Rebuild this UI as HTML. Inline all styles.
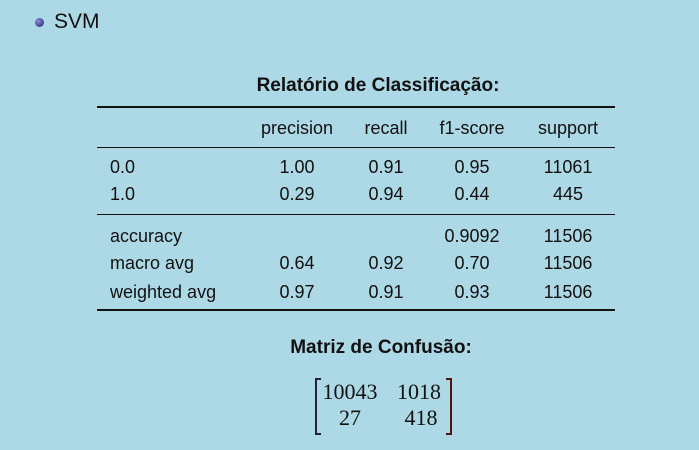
<!DOCTYPE html>
<html><head><meta charset="utf-8"><style>
body{margin:0;width:699px;height:450px;background:#add8e6;position:relative;overflow:hidden;font-family:"Liberation Sans",sans-serif;color:#111;}
.t{position:absolute;white-space:nowrap;font-size:18px;line-height:20px;transform:translate(-50%,-50%);}
.l{position:absolute;white-space:nowrap;font-size:18px;line-height:20px;transform:translateY(-50%);}
.r{position:absolute;left:97px;width:518px;background:#111;}
.m{position:absolute;font-family:"Liberation Serif",serif;font-size:22px;line-height:24px;transform:translate(-50%,-50%);white-space:nowrap;}
</style></head><body>
<div style="position:absolute;left:35px;top:18px;width:9px;height:9px;border-radius:50%;background:radial-gradient(circle at 35% 35%,#8a8ad8,#22226a);"></div>
<div class="l" style="left:54px;top:22px;font-size:21px;">SVM</div>
<div class="t" style="left:378px;top:86px;font-weight:bold;font-size:19px;">Relatório de Classificação:</div>
<div class="r" style="top:106px;height:2px;"></div>
<div class="r" style="top:147px;height:1px;"></div>
<div class="r" style="top:214px;height:1px;"></div>
<div class="r" style="top:309px;height:2px;"></div>
<div class="t" style="left:297px;top:128px;">precision</div>
<div class="t" style="left:386px;top:128px;">recall</div>
<div class="t" style="left:472px;top:128px;">f1-score</div>
<div class="t" style="left:568px;top:128px;">support</div>

<div class="l" style="left:110px;top:167px;">0.0</div>
<div class="t" style="left:297px;top:167px;">1.00</div>
<div class="t" style="left:386px;top:167px;">0.91</div>
<div class="t" style="left:472px;top:167px;">0.95</div>
<div class="t" style="left:568px;top:167px;">11061</div>

<div class="l" style="left:110px;top:194px;">1.0</div>
<div class="t" style="left:297px;top:194px;">0.29</div>
<div class="t" style="left:386px;top:194px;">0.94</div>
<div class="t" style="left:472px;top:194px;">0.44</div>
<div class="t" style="left:568px;top:194px;">445</div>

<div class="l" style="left:110px;top:236px;">accuracy</div>
<div class="t" style="left:472px;top:236px;">0.9092</div>
<div class="t" style="left:568px;top:236px;">11506</div>

<div class="l" style="left:110px;top:263px;">macro avg</div>
<div class="t" style="left:297px;top:263px;">0.64</div>
<div class="t" style="left:386px;top:263px;">0.92</div>
<div class="t" style="left:472px;top:263px;">0.70</div>
<div class="t" style="left:568px;top:263px;">11506</div>

<div class="l" style="left:110px;top:292px;">weighted avg</div>
<div class="t" style="left:297px;top:292px;">0.97</div>
<div class="t" style="left:386px;top:292px;">0.91</div>
<div class="t" style="left:472px;top:292px;">0.93</div>
<div class="t" style="left:568px;top:292px;">11506</div>

<div class="t" style="left:381px;top:348px;font-weight:bold;font-size:19px;">Matriz de Confusão:</div>
<div style="position:absolute;left:315px;top:378px;width:4px;height:53px;border:2px solid #223;border-right:none;"></div>
<div style="position:absolute;left:446px;top:378px;width:4px;height:53px;border:2px solid #511;border-left:none;"></div>
<div class="m" style="left:350px;top:392px;">10043</div>
<div class="m" style="left:419px;top:392px;">1018</div>
<div class="m" style="left:350px;top:418px;">27</div>
<div class="m" style="left:421px;top:418px;">418</div>
</body></html>
